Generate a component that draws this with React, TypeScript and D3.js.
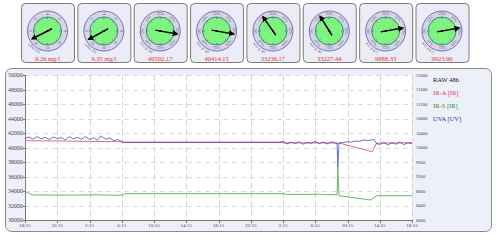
import React from 'react';
import * as d3 from 'd3';

// ---------- data ----------
const timeLabels = ['18:15','22:15','2:15','6:15','10:15','14:15','18:15','22:15','2:15','6:15','10:15','14:15','18:15'];
const leftTicks = [50000,48000,46000,44000,42000,40000,38000,36000,34000,32000,30000];
const rightTicks = [12000,11600,11200,10800,10400,10000,9600,9200,8800,8400,8000];

const gaugeValues = ['9.26 mg/l','9.35 mg/l','40502.17','40414.15','33236.17','33227.44','9888.33','9923.96'];
const gaugeNames = ['O2 mg/l','O2 mg/l','IR-A raw','IR-A raw','IR-S raw','IR-S raw','UVA raw','UVA raw'];
const gaugeAngles = [243, 241, 100, 100, 325, 328, 80, 80];
const mgRing = ['0','2','4','6','8','10','12','14'];
const pctRing = ['0%','12%','25%','37%','50%','62%','75%','87%'];

const legendNames = ['RAW 48h','IR-A [IR]','IR-S [IR]','UVA [UV]'];
const legendColors = ['#111111','#d83a5a','#2e8a2e','#3030b0'];

// [hours since start, value]
const irA: [number, number][] = [
  [0,40940],[2,40920],[4,40900],[6,40880],[8,40840],[10,40820],[11.8,40800],[12.2,40720],
  [31.5,40720],[32,40640],[38.7,40620],[38.8,40500],[38.95,40620],[43.1,39420],[43.6,40600],[48,40660],
];
const irS: [number, number][] = [
  [0,33770],[0.4,33750],[0.9,33450],[3,33440],[6,33430],[8.4,33450],[8.8,33540],[9.3,33450],
  [11,33420],[12.1,33430],[12.4,33630],[32,33630],[32.5,33540],[35,33530],[36.2,33550],[36.5,33600],
  [36.8,33500],[38.7,33490],[38.8,37310],[38.95,33350],[42.9,32760],[43.6,33350],[48,33350],
];
const uva: [number, number][] = [
  [0,10250],[0.5,10290],[1,10230],[1.5,10300],[2,10240],[2.5,10280],[3,10220],[3.5,10290],[4,10250],
  [4.5,10270],[5,10210],[5.5,10300],[6,10240],[6.5,10280],[7,10230],[7.5,10300],[8,10220],[8.5,10270],
  [9,10200],[9.4,10320],[10,10230],[10.5,10260],[11,10190],[11.5,10220],[12.2,10143],[31.5,10143],
  [32,10170],[32.5,10100],[33,10150],[33.5,10110],[34,10160],[34.5,10090],[35,10140],[35.5,10120],
  [36,10170],[36.5,10110],[37,10150],[37.5,10100],[38,10160],[38.5,10120],[38.7,10120],[38.8,9462],
  [38.95,10130],[39.5,10140],[40,10160],[40.5,10150],[41,10180],[41.5,10170],[42,10210],[42.5,10190],
  [43.3,10220],[43.6,10110],[44,10080],[44.5,10140],[45,10070],[45.5,10130],[46,10090],[46.5,10150],
  [47,10080],[47.5,10130],[48,10100],
];

// ---------- layout ----------
const W = 497, H = 240;
const plot = { left: 25, right: 412, top: 75, bottom: 220 };
const FONT = '"Liberation Serif", "DejaVu Serif", serif';

const x = d3.scaleLinear().domain([0, 48]).range([plot.left, plot.right]);
const yL = d3.scaleLinear().domain([30000, 50000]).range([plot.bottom, plot.top]);
const yR = d3.scaleLinear().domain([8000, 12000]).range([plot.bottom, plot.top]);
const xTickScale = d3.scalePoint<string>().domain(timeLabels.map((_, i) => String(i))).range([plot.left, plot.right]);

const lineL = d3.line<[number, number]>().x(d => x(d[0])).y(d => yL(d[1]));
const lineR = d3.line<[number, number]>().x(d => x(d[0])).y(d => yR(d[1]));

const gaugeX = d3.scaleLinear().domain([0, 7]).range([21, 415.5]);

function Gauge({ i }: { i: number }) {
  const px = gaugeX(i);
  const pw = 53;
  const cx = px + pw / 2;
  const cy = 31;
  const a = (gaugeAngles[i] * Math.PI) / 180;
  const L = 17;
  const tipX = cx + Math.sin(a) * L, tipY = cy - Math.cos(a) * L;
  const tailX = cx - Math.sin(a) * 5, tailY = cy + Math.cos(a) * 5;
  const ring = i < 2 ? mgRing : pctRing;
  const arcId = `garc${i}`;
  const rA = 21.5;
  const a0 = (200 * Math.PI) / 180, a1 = (345 * Math.PI) / 180;
  const arcPath = `M${cx + Math.sin(a0) * rA},${cy - Math.cos(a0) * rA} A${rA},${rA} 0 0 1 ${cx + Math.sin(a1) * rA},${cy - Math.cos(a1) * rA}`;
  return (
    <g>
      <rect x={px + 0.5} y={3.5} width={pw} height={59} rx={4} fill="#ececf6" stroke="#7c7c7c" strokeWidth={1} />
      <path id={arcId} d={arcPath} fill="none" />
      <text fontFamily={FONT} fontSize={4} fill="#555">
        <textPath href={`#${arcId}`}>{gaugeNames[i]}</textPath>
      </text>
      <circle cx={cx} cy={cy} r={20} fill="#d6d6de" stroke="#6e6ee0" strokeWidth={1} />
      <circle cx={cx} cy={cy} r={14} fill="#7ef47e" stroke="#3d6fa8" strokeWidth={0.9} />
      {ring.map((t, k) => {
        const deg = (270 + k * 45) % 360;
        const ang = (deg * Math.PI) / 180;
        const lx = cx + Math.sin(ang) * 17, ly = cy - Math.cos(ang) * 17;
        const rot = deg > 90 && deg < 270 ? deg - 180 : deg;
        return (
          <g key={k}>
            <line x1={cx + Math.sin(ang) * 12} y1={cy - Math.cos(ang) * 12} x2={cx + Math.sin(ang) * 14}
              y2={cy - Math.cos(ang) * 14} stroke="#3d6fa8" strokeWidth={0.8} />
            <text x={lx} y={ly} fontFamily={FONT} fontSize={3.8} fill="#555" textAnchor="middle"
              dominantBaseline="central" transform={`rotate(${rot} ${lx} ${ly})`}>
              {t}
            </text>
          </g>
        );
      })}
      <line x1={tailX} y1={tailY} x2={tipX} y2={tipY} stroke="#000" strokeWidth={1.5} markerEnd="url(#arrowHead)" />
      <circle cx={cx} cy={cy} r={1} fill="#000" />
      <text x={cx} y={61} fontFamily={FONT} fontSize={6.5} fill="#e03434" textAnchor="middle">{gaugeValues[i]}</text>
    </g>
  );
}

export default function App() {
  return (
    <svg width={W} height={H} style={{ position: 'absolute', left: 0, top: 0, background: '#fff' }}>
      <defs>
        <marker id="arrowHead" viewBox="0 0 10 10" refX="7" refY="5" markerWidth="4" markerHeight="4" orient="auto" markerUnits="strokeWidth">
          <path d="M0,0 L10,5 L0,10 z" fill="#000" />
        </marker>
        <clipPath id="plotClip">
          <rect x={plot.left} y={plot.top - 2} width={plot.right - plot.left} height={plot.bottom - plot.top + 2} />
        </clipPath>
      </defs>

      {d3.range(8).map(i => <Gauge key={i} i={i} />)}

      {/* main frame */}
      <rect x={5.5} y={68.5} width={486} height={163} rx={6} fill="#eef0f9" stroke="#8a8a8a" strokeWidth={1} />
      <rect x={plot.left} y={plot.top} width={plot.right - plot.left} height={plot.bottom - plot.top} fill="#ffffff" />

      {/* grid */}
      {leftTicks.map(t => (
        <line key={'h' + t} x1={plot.left} x2={plot.right} y1={Math.round(yL(t)) + 0.5} y2={Math.round(yL(t)) + 0.5}
          stroke="#dadada" strokeWidth={1} strokeDasharray="5,4" />
      ))}
      {timeLabels.map((_, i) => {
        const xx = Math.round(xTickScale(String(i))!) + 0.5;
        return <line key={'v' + i} x1={xx} x2={xx} y1={plot.top} y2={plot.bottom} stroke="#d6d6d6" strokeWidth={1} strokeDasharray="6,3" />;
      })}

      {/* axes */}
      <line x1={plot.left + 0.5} x2={plot.left + 0.5} y1={plot.top} y2={plot.bottom} stroke="#777" strokeWidth={1} />
      <line x1={plot.left} x2={plot.right} y1={plot.bottom + 0.5} y2={plot.bottom + 0.5} stroke="#777" strokeWidth={1} />
      {timeLabels.map((t, i) => {
        const xx = xTickScale(String(i))!;
        return (
          <g key={'xt' + i}>
            <line x1={Math.round(xx) + 0.5} x2={Math.round(xx) + 0.5} y1={plot.bottom} y2={plot.bottom + 3} stroke="#777" />
            <text x={xx} y={227} fontFamily={FONT} fontSize={5} fill="#444" textAnchor="middle">{t}</text>
          </g>
        );
      })}
      {leftTicks.map(t => (
        <g key={'yl' + t}>
          <line x1={plot.left - 2} x2={plot.left} y1={Math.round(yL(t)) + 0.5} y2={Math.round(yL(t)) + 0.5} stroke="#777" />
          <text x={23} y={yL(t) + 2} fontFamily={FONT} fontSize={6} fill="#444" textAnchor="end">{t}</text>
        </g>
      ))}
      {rightTicks.map(t => (
        <text key={'yr' + t} x={416} y={yR(t) + 1.6} fontFamily={FONT} fontSize={4.6} fill="#444">{t}</text>
      ))}

      {/* series */}
      <g clipPath="url(#plotClip)" fill="none" strokeLinejoin="round">
        <path d={lineL(irS)!} stroke="#6cb46c" strokeWidth={1} />
        <path d={lineL(irA)!} stroke="#e46a7e" strokeWidth={1} />
        <path d={lineR(uva)!} stroke="#3434c0" strokeWidth={0.9} strokeOpacity={0.8} />
      </g>

      {/* legend */}
      {legendNames.map((n, i) => (
        <text key={n} x={433} y={81.5 + i * 13} fontFamily={FONT} fontSize={6.5} fill={legendColors[i]}>{n}</text>
      ))}
    </svg>
  );
}
